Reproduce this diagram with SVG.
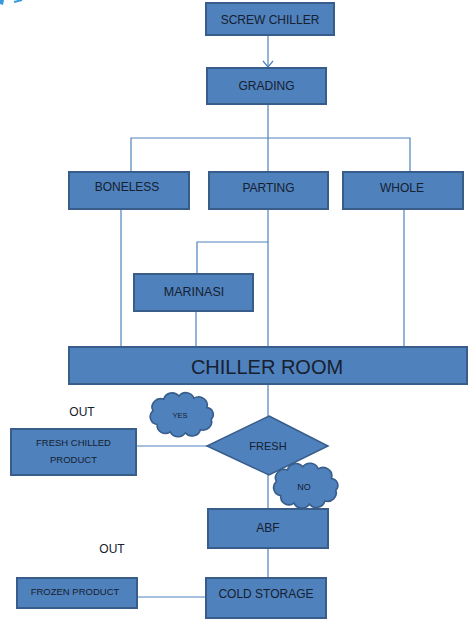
<svg xmlns="http://www.w3.org/2000/svg" width="468" height="620" viewBox="0 0 468 620">
<style>
.box{fill:#4f81bd;stroke:#385d8a;stroke-width:2}
.ln{fill:none;stroke:#4f81bd;stroke-width:1.2}
.t{font-family:"Liberation Sans",Arial,sans-serif;fill:#16202e;text-anchor:middle}
.cloud{fill:#4f81bd;stroke:#385d8a;stroke-width:1.5}
</style>
<defs>
<marker id="vee" markerWidth="10" markerHeight="12" refX="7" refY="6" orient="auto" markerUnits="userSpaceOnUse" viewBox="0 0 10 12">
<path d="M1,1 L7,6 L1,11" fill="none" stroke="#4f81bd" stroke-width="1.2"/>
</marker>
<path id="cloudShape" d="M-26,-4 A8,8 0 0 1 -16,-15 A8,8 0 0 1 -2,-18 A8,8 0 0 1 12,-16 A8,8 0 0 1 24,-7 A6.5,6.5 0 0 1 28,4 A8,8 0 0 1 18,14 A8,8 0 0 1 4,17 A8,8 0 0 1 -10,16 A7.5,7.5 0 0 1 -22,9 A7.5,7.5 0 0 1 -26,-4 Z"/>
</defs>
<rect width="468" height="620" fill="#ffffff"/>
<g id="artifact">
<path d="M0,0 L4,0 L3,5 L0,4 Z" fill="#3a9ad9"/>
<path d="M14,2 L22,0" stroke="#3a9ad9" stroke-width="2"/>
</g>
<g id="connectors">
<line class="ln" x1="268" y1="36" x2="268" y2="67" marker-end="url(#vee)"/>
<line class="ln" x1="268" y1="104" x2="268" y2="172"/>
<polyline class="ln" points="131,172 131,138 410,138 410,172"/>
<line class="ln" x1="121" y1="209" x2="121" y2="347"/>
<line class="ln" x1="268" y1="209" x2="268" y2="347"/>
<line class="ln" x1="404" y1="209" x2="404" y2="347"/>
<polyline class="ln" points="268,242 197,242 197,274"/>
<line class="ln" x1="196" y1="311" x2="196" y2="347"/>
<line class="ln" x1="268" y1="384" x2="268" y2="416"/>
<line class="ln" x1="207" y1="446" x2="136" y2="446"/>
<line class="ln" x1="268" y1="475" x2="268" y2="509"/>
<line class="ln" x1="268" y1="548" x2="268" y2="578"/>
<line class="ln" x1="137" y1="597" x2="206" y2="597"/>
</g>
<g id="screw-chiller"><rect class="box" x="206" y="3" width="128" height="32"/><text class="t" x="270" y="24" font-size="12">SCREW CHILLER</text></g>
<g id="grading"><rect class="box" x="207" y="68" width="119" height="36"/><text class="t" x="266.5" y="90" font-size="12">GRADING</text></g>
<g id="boneless"><rect class="box" x="69" y="172" width="120" height="37"/><text class="t" x="127" y="191" font-size="12">BONELESS</text></g>
<g id="parting"><rect class="box" x="209" y="172" width="119" height="37"/><text class="t" x="268.5" y="192" font-size="12">PARTING</text></g>
<g id="whole"><rect class="box" x="343" y="172" width="120" height="37"/><text class="t" x="402" y="192" font-size="12">WHOLE</text></g>
<g id="marinasi"><rect class="box" x="134" y="274" width="119" height="37"/><text class="t" x="194" y="296" font-size="12.5">MARINASI</text></g>
<g id="chiller-room"><rect class="box" x="69" y="347" width="398" height="37"/><text class="t" x="267" y="374" font-size="20">CHILLER ROOM</text></g>
<g id="fresh"><polygon points="269,416 328,446 269,475 207,446" fill="#4f81bd" stroke="#385d8a" stroke-width="1.5"/><text class="t" x="268" y="450" font-size="11">FRESH</text></g>
<g id="fresh-chilled-product"><rect class="box" x="11" y="429" width="125" height="46"/><text class="t" x="73.5" y="446" font-size="9.5">FRESH CHILLED</text><text class="t" x="73.5" y="463" font-size="9.5">PRODUCT</text></g>
<g id="out1"><text class="t" x="82" y="416" font-size="12">OUT</text></g>
<g id="yes"><use href="#cloudShape" class="cloud" transform="translate(181,415) scale(1.08,1.05)"/><text class="t" x="180" y="418" font-size="7.5">YES</text></g>
<g id="no"><use href="#cloudShape" class="cloud" transform="translate(305,486) scale(1.1,1.07)"/><text class="t" x="304" y="490" font-size="9">NO</text></g>
<g id="abf"><rect class="box" x="208" y="509" width="120" height="39"/><text class="t" x="268" y="532" font-size="12">ABF</text></g>
<g id="out2"><text class="t" x="112" y="553" font-size="12">OUT</text></g>
<g id="cold-storage"><rect class="box" x="206" y="578" width="120" height="40"/><text class="t" x="266" y="598" font-size="12">COLD STORAGE</text></g>
<g id="frozen-product"><rect class="box" x="17" y="578" width="120" height="30"/><text class="t" x="75" y="595" font-size="9.5">FROZEN PRODUCT</text></g>
</svg>
